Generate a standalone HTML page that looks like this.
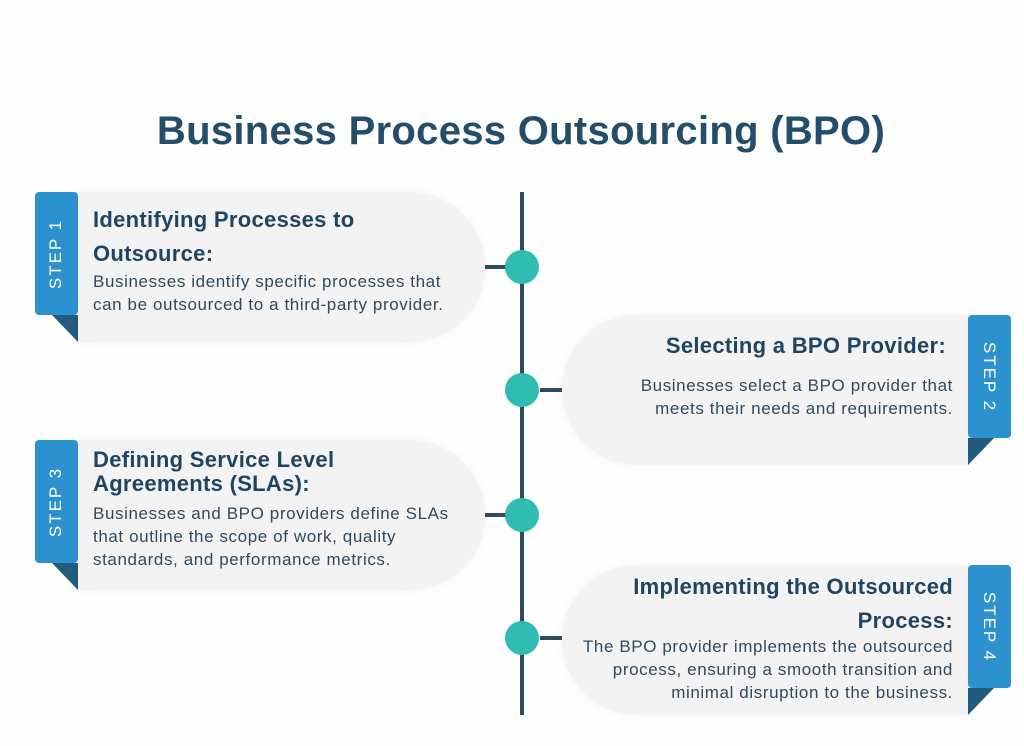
<!DOCTYPE html>
<html><head><meta charset="utf-8"><style>
*{margin:0;padding:0;box-sizing:border-box}
body{width:1024px;height:746px;background:#fefefe;position:relative;overflow:hidden;font-family:"Liberation Sans",sans-serif}
.t{position:absolute;left:0;width:1042px;top:109px;text-align:center;font-size:40px;font-weight:bold;color:#234d68;letter-spacing:0.3px}
.card{position:absolute;background:#f3f3f4;box-shadow:0 0 10px rgba(0,0,0,0.04)}
.L{border-radius:0 75px 75px 0}
.R{border-radius:75px 0 0 75px}
.tab{position:absolute;width:43px;height:123px;background:#2b92cf;border-radius:4px;color:#fff;font-size:17px;letter-spacing:2px;display:flex;align-items:center;justify-content:center}
.tab span{display:block;white-space:nowrap}
.tl span{transform:rotate(-90deg)}
.tr span{transform:rotate(90deg)}
.fold{position:absolute;width:0;height:0}
.h{position:absolute;font-size:22px;font-weight:bold;color:#1f4560;line-height:34px;letter-spacing:0.3px;white-space:nowrap}
.p{position:absolute;font-size:17px;color:#2f4a5f;line-height:23px;letter-spacing:0.6px;white-space:nowrap}
.ar{text-align:right}
.line{position:absolute;left:520px;top:192px;width:4px;height:523px;background:#2c4b60}
.dot{position:absolute;width:34px;height:34px;border-radius:50%;background:#2fbdb1}
.stub{position:absolute;height:4px;width:22px;background:#2c4b60}
</style></head><body>
<div class="t">Business Process Outsourcing (BPO)</div>

<div class="card L" style="left:78px;top:192px;width:407px;height:150px"></div>
<div class="card R" style="left:562px;top:315px;width:406px;height:150px"></div>
<div class="card L" style="left:78px;top:440px;width:407px;height:150px"></div>
<div class="card R" style="left:562px;top:565px;width:406px;height:150px"></div>

<div class="line"></div>
<div class="stub" style="left:485px;top:265px"></div>
<div class="stub" style="left:540px;top:388px"></div>
<div class="stub" style="left:485px;top:513px"></div>
<div class="stub" style="left:540px;top:636px"></div>
<div class="dot" style="left:505px;top:250px"></div>
<div class="dot" style="left:505px;top:373px"></div>
<div class="dot" style="left:505px;top:498px"></div>
<div class="dot" style="left:505px;top:621px"></div>

<div class="tab tl" style="left:35px;top:192px"><span>STEP 1</span></div>
<div class="fold" style="left:52px;top:315px;border-top:27px solid #225b7c;border-left:26px solid transparent"></div>
<div class="tab tr" style="left:968px;top:315px"><span>STEP 2</span></div>
<div class="fold" style="left:968px;top:438px;border-top:27px solid #225b7c;border-right:26px solid transparent"></div>
<div class="tab tl" style="left:35px;top:440px"><span>STEP 3</span></div>
<div class="fold" style="left:52px;top:563px;border-top:27px solid #225b7c;border-left:26px solid transparent"></div>
<div class="tab tr" style="left:968px;top:565px"><span>STEP 4</span></div>
<div class="fold" style="left:968px;top:688px;border-top:27px solid #225b7c;border-right:26px solid transparent"></div>

<div class="h" style="left:93px;top:203px">Identifying Processes to<br>Outsource:</div>
<div class="p" style="left:93px;top:270px">Businesses identify specific processes that<br>can be outsourced to a third-party provider.</div>

<div class="h ar" style="right:78px;top:329px">Selecting a BPO Provider:</div>
<div class="p ar" style="right:71px;top:374px">Businesses select a BPO provider that<br>meets their needs and requirements.</div>

<div class="h" style="left:93px;top:448px;line-height:24px">Defining Service Level<br>Agreements (SLAs):</div>
<div class="p" style="left:93px;top:502px">Businesses and BPO providers define SLAs<br>that outline the scope of work, quality<br>standards, and performance metrics.</div>

<div class="h ar" style="right:71px;top:570px">Implementing the Outsourced<br>Process:</div>
<div class="p ar" style="right:71px;top:635px">The BPO provider implements the outsourced<br>process, ensuring a smooth transition and<br>minimal disruption to the business.</div>
</body></html>
